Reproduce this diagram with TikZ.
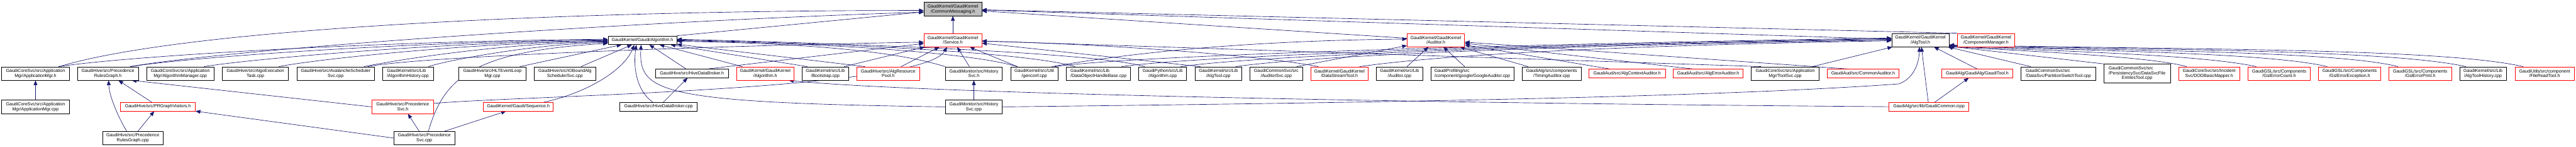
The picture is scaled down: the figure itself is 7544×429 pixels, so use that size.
\documentclass[tikz,border=0pt]{standalone}
\usepackage{fontspec}
\setmainfont{Liberation Sans}
\usepackage{xcolor}
\usepackage{tikz}
\usetikzlibrary{arrows.meta,backgrounds}
\definecolor{linkblue}{RGB}{25,25,112}
\definecolor{rootgray}{RGB}{191,191,191}
\definecolor{truncred}{RGB}{255,0,0}

\tikzset{
  srcbox/.style={draw=black,fill=white,line width=1.2pt,inner sep=0pt,align=center,
    font=\fontsize{13}{14.5}\selectfont},
  twoline/.style={minimum height=39pt},
  oneline/.style={minimum height=25pt},
  trunc/.style={draw=truncred},
  incl/.style={draw=linkblue,line width=1.2pt,-{Triangle[length=14pt,width=11pt]}}
}

\begin{document}
\begin{tikzpicture}[x=1pt,y=-1pt]
\useasboundingbox (0,0) rectangle (7544,429);

\node[srcbox,twoline,fill=rootgray,minimum width=169pt] (cm) at (2790.5,26.5) {GaudiKernel/GaudiKernel\\/CommonMessaging.h};

\node[srcbox,oneline,minimum width=201pt] (alg) at (1881.5,117.5) {GaudiKernel/Gaudi/Algorithm.h};
\node[srcbox,twoline,trunc,minimum width=169pt] (svc) at (2790.5,117) {GaudiKernel/GaudiKernel\\/Service.h};
\node[srcbox,twoline,trunc,minimum width=168pt] (aud) at (4205,117) {GaudiKernel/GaudiKernel\\/Auditor.h};
\node[srcbox,twoline,minimum width=168pt] (algtool) at (5624,117) {GaudiKernel/GaudiKernel\\/AlgTool.h};
\node[srcbox,twoline,trunc,minimum width=168pt] (compmgr) at (5816,117) {GaudiKernel/GaudiKernel\\/ComponentManager.h};

\node[srcbox,twoline,minimum width=198pt] (appmgrh) at (104,214.5) {GaudiCoreSvc/src/Application\\Mgr/ApplicationMgr.h};
\node[srcbox,twoline,minimum width=178pt] (prgh) at (316,214.5) {GaudiHive/src/Precedence\\RulesGraph.h};
\node[srcbox,twoline,minimum width=198pt] (algmgr) at (528,214.5) {GaudiCoreSvc/src/Application\\Mgr/AlgorithmManager.cpp};
\node[srcbox,twoline,minimum width=194pt] (algoexec) at (748,214.5) {GaudiHive/src/AlgoExecution\\Task.cpp};
\node[srcbox,twoline,minimum width=228pt] (avalanche) at (983,214.5) {GaudiHive/src/AvalancheScheduler\\Svc.cpp};
\node[srcbox,twoline,minimum width=149pt,align=left] (alghist) at (1194.5,214.5) {GaudiKernel/src/Lib\\/AlgorithmHistory.cpp};
\node[srcbox,twoline,minimum width=196pt] (hlt) at (1442,214.5) {GaudiHive/src/HLTEventLoop\\Mgr.cpp};
\node[srcbox,twoline,minimum width=179pt] (iobound) at (1654.5,214.5) {GaudiHive/src/IOBoundAlg\\SchedulerSvc.cpp};
\node[srcbox,oneline,minimum width=213pt] (hdbh) at (2026.5,214.5) {GaudiHive/src/HiveDataBroker.h};
\node[srcbox,twoline,trunc,minimum width=168pt] (gkalg) at (2241,214.5) {GaudiKernel/GaudiKernel\\/Algorithm.h};
\node[srcbox,twoline,minimum width=136pt] (bootstrap) at (2417,214.5) {GaudiKernel/src/Lib\\/Bootstrap.cpp};
\node[srcbox,twoline,trunc,minimum width=184pt] (algpool) at (2601,214.5) {GaudiHive/src/AlgResource\\Pool.h};
\node[srcbox,twoline,minimum width=166pt] (histh) at (2852,214.5) {GaudiMonitor/src/History\\Svc.h};
\node[srcbox,twoline,minimum width=138pt] (genconf) at (3029,214.5) {GaudiKernel/src/Util\\/genconf.cpp};
\node[srcbox,twoline,minimum width=188pt,align=left] (dohb) at (3217,214.5) {GaudiKernel/src/Lib\\/DataObjectHandleBase.cpp};
\node[srcbox,twoline,minimum width=140pt] (pyalg) at (3405,214.5) {GaudiPython/src/Lib\\/Algorithm.cpp};
\node[srcbox,twoline,minimum width=136pt] (algtoolcpp) at (3568,214.5) {GaudiKernel/src/Lib\\/AlgTool.cpp};
\node[srcbox,twoline,minimum width=155pt] (auditorsvc) at (3737.5,214.5) {GaudiCommonSvc/src\\/AuditorSvc.cpp};
\node[srcbox,twoline,trunc,minimum width=169pt] (datastream) at (3922.5,214.5) {GaudiKernel/GaudiKernel\\/DataStreamTool.h};
\node[srcbox,twoline,minimum width=137pt] (audcpp) at (4098.5,214.5) {GaudiKernel/src/Lib\\/Auditor.cpp};
\node[srcbox,twoline,minimum width=243pt,align=left] (google) at (4311.5,214.5) {GaudiProfiling/src\\/component/google/GoogleAuditor.cpp};
\node[srcbox,twoline,minimum width=172pt] (timing) at (4544,214.5) {GaudiAlg/src/components\\/TimingAuditor.cpp};
\node[srcbox,oneline,trunc,minimum width=224pt] (algctx) at (4765,214.5) {GaudiAud/src/AlgContextAuditor.h};
\node[srcbox,oneline,trunc,minimum width=205pt] (algerr) at (5002.5,214.5) {GaudiAud/src/AlgErrorAuditor.h};
\node[srcbox,twoline,minimum width=198pt] (toolsvc) at (5228,214.5) {GaudiCoreSvc/src/Application\\Mgr/ToolSvc.cpp};
\node[srcbox,oneline,trunc,minimum width=210pt] (common) at (5456,214.5) {GaudiAud/src/CommonAuditor.h};
\node[srcbox,oneline,trunc,minimum width=207pt] (gauditool) at (5790.5,214.5) {GaudiAlg/GaudiAlg/GaudiTool.h};
\node[srcbox,twoline,minimum width=218pt,align=left] (partswitch) at (6028,214.5) {GaudiCommonSvc/src\\/DataSvc/PartitionSwitchTool.cpp};
\node[srcbox,minimum width=195pt,minimum height=55pt] (datasvcfile) at (6258.5,214.5) {\begin{tabular}{@{}l@{}}GaudiCommonSvc/src\\/PersistencySvc/DataSvcFile\\\multicolumn{1}{@{}c@{}}{EntriesTool.cpp}\end{tabular}};
\node[srcbox,twoline,trunc,minimum width=179pt] (dodbasic) at (6469.5,214.5) {GaudiCoreSvc/src/Incident\\Svc/DODBasicMapper.h};
\node[srcbox,twoline,trunc,minimum width=183pt] (gslcount) at (6674.5,214.5) {GaudiGSL/src/Components\\/GslErrorCount.h};
\node[srcbox,twoline,trunc,minimum width=182pt] (gslexc) at (6881,214.5) {GaudiGSL/src/Components\\/GslErrorException.h};
\node[srcbox,twoline,trunc,minimum width=183pt] (gslprint) at (7087.5,214.5) {GaudiGSL/src/Components\\/GslErrorPrint.h};
\node[srcbox,twoline,minimum width=137pt] (algtoolhist) at (7271.5,214.5) {GaudiKernel/src/Lib\\/AlgToolHistory.cpp};
\node[srcbox,twoline,trunc,minimum width=174pt] (fileread) at (7452,214.5) {GaudiUtils/src/component\\/FileReadTool.h};

\node[srcbox,twoline,minimum width=198pt] (appmgrcpp) at (104,312) {GaudiCoreSvc/src/Application\\Mgr/ApplicationMgr.cpp};
\node[srcbox,oneline,trunc,minimum width=219pt] (prgvis) at (462.5,311.5) {GaudiHive/src/PRGraphVisitors.h};
\node[srcbox,twoline,trunc,minimum width=179pt] (prsvch) at (1179.5,312) {GaudiHive/src/Precedence\\Svc.h};
\node[srcbox,oneline,trunc,minimum width=204pt] (seq) at (1518,311.5) {GaudiKernel/Gaudi/Sequence.h};
\node[srcbox,oneline,minimum width=227pt] (hdbcpp) at (1928.5,311.5) {GaudiHive/src/HiveDataBroker.cpp};
\node[srcbox,twoline,minimum width=166pt] (histcpp) at (2852,312) {GaudiMonitor/src/History\\Svc.cpp};
\node[srcbox,oneline,trunc,minimum width=234pt] (gaudicommon) at (5649,311.5) {GaudiAlg/src/lib/GaudiCommon.icpp};

\node[srcbox,twoline,minimum width=178pt] (prgcpp) at (389,403) {GaudiHive/src/Precedence\\RulesGraph.cpp};
\node[srcbox,twoline,minimum width=179pt] (prsvccpp) at (1242.5,403) {GaudiHive/src/Precedence\\Svc.cpp};

\begin{scope}[on background layer]
\draw[incl] (svc) -- (cm);
\draw[incl] (alg.north east) -- (cm);
\draw[incl] ([xshift=-30pt]appmgrh.north east) .. controls (550,80) and (1700,30) .. ([yshift=-4pt]cm.west);
\draw[incl] ([xshift=-25pt]prgh.north east) .. controls (700,140) and (1900,60) .. ([yshift=-9pt]cm.west);
\draw[incl] (aud) -- (cm);
\draw[incl] (algtool) -- (cm);
\draw[incl] (compmgr.north west) -- (cm);

\draw[incl] ([xshift=-32pt]appmgrh.north east) .. controls +(200,-30) and +(-700,6) .. ([yshift=3pt]alg.west);
\draw[incl] ([xshift=-22pt]prgh.north east) .. controls +(150,-25) and +(-600,5) .. ([yshift=1pt]alg.west);
\draw[incl] ([xshift=-30pt]algmgr.north east) .. controls +(120,-20) and +(-500,4) .. ([yshift=-1pt]alg.west);
\draw[incl] ([xshift=-29pt]algoexec.north east) .. controls +(100,-20) and +(-400,3) .. ([yshift=-3pt]alg.west);
\draw[incl] ([xshift=-32pt]avalanche.north east) .. controls +(100,-20) and +(-300,2) .. ([yshift=-5pt]alg.west);
\draw[incl] ([xshift=-15pt]alghist.north east) .. controls +(60,-20) and +(-200,2) .. ([yshift=-7pt]alg.west);
\draw[incl] ([xshift=-18pt]hlt.north east) -- (alg);
\draw[incl] ([xshift=-43pt]iobound.north east) -- (alg);
\draw[incl] ([xshift=-17pt]hdbh.north) -- (alg);
\draw[incl] ([xshift=-67pt]gkalg.north) -- (alg);
\draw[incl] ([xshift=-53pt]bootstrap.north) -- (alg);
\draw[incl] ([xshift=-68pt]algpool.north) -- (alg);
\draw[incl] (histh.north west) .. controls +(-100,-30) and +(500,8) .. ([yshift=-3pt]alg.east);
\draw[incl] ([xshift=20pt]genconf.north west) .. controls +(-100,-30) and +(600,12) .. ([yshift=-1pt]alg.east);
\draw[incl] ([xshift=26pt]dohb.north west) .. controls +(-100,-30) and +(700,16) .. ([yshift=1pt]alg.east);
\draw[incl] ([xshift=18pt]pyalg.north west) .. controls +(-100,-30) and +(800,20) .. ([yshift=3pt]alg.east);
\draw[incl] ([xshift=75pt]seq.north) .. controls (1730,268) and (1830,200) .. ([xshift=-24pt]alg.south);
\draw[incl] ([xshift=-17pt]hdbcpp.north) .. controls (1860,260) and (1855,190) .. ([xshift=-18pt]alg.south);
\draw[incl] ([xshift=12pt]prsvccpp.north) .. controls (1300,230) and (1380,150) .. ([yshift=-9pt]alg.west);
\draw[incl] (histcpp.west) .. controls (1930,300) and (1870,270) .. ([xshift=-4pt]alg.south);

\draw[incl] ([xshift=-20pt]avalanche.north east) .. controls +(150,-30) and +(-600,10) .. ([yshift=-6pt]svc.west);
\draw[incl] ([xshift=45pt]hdbh.north) -- (svc);
\draw[incl] ([xshift=55pt]bootstrap.north) -- (svc);
\draw[incl] ([xshift=38pt]algpool.north) -- (svc);
\draw[incl] ([xshift=-13pt]histh.north) -- (svc);
\draw[incl] ([xshift=20pt]genconf.north west) -- (svc);
\draw[incl] ([yshift=10pt]prsvch.east) .. controls (1500,280) and (2700,265) .. ([xshift=-17pt]svc.south);
\draw[incl] ([xshift=16pt]algtoolcpp.north west) -- (svc);
\draw[incl] ([xshift=23pt]datastream.north west) .. controls +(-150,-30) and +(400,10) .. ([yshift=-3pt]svc.east);
\draw[incl] ([xshift=29pt]toolsvc.north west) -- (svc);

\draw[incl] ([xshift=60pt]auditorsvc.north) -- (aud);
\draw[incl] ([xshift=22pt]audcpp.north) -- (aud);
\draw[incl] ([xshift=-22pt]google.north) -- (aud);
\draw[incl] ([xshift=-69pt]timing.north) -- (aud);
\draw[incl] ([xshift=-50pt]algctx.north) -- (aud);
\draw[incl] ([xshift=-44pt]algerr.north) -- (aud);
\draw[incl] ([xshift=-43pt]common.north) -- (aud);
\draw[incl] ([xshift=-18pt]genconf.north east) .. controls +(200,-35) and +(-500,5) .. ([yshift=3pt]aud.west);

\draw[incl] ([xshift=-27pt]dohb.north east) .. controls +(250,-35) and +(-900,14) .. ([yshift=4pt]algtool.west);
\draw[incl] ([xshift=-18pt]pyalg.north east) .. controls +(250,-35) and +(-900,14) .. ([yshift=2pt]algtool.west);
\draw[incl] ([xshift=-18pt]algtoolcpp.north east) .. controls +(250,-35) and +(-900,14) .. (algtool.west);
\draw[incl] ([xshift=-26pt]datastream.north east) .. controls +(250,-35) and +(-800,14) .. ([yshift=-2pt]algtool.west);
\draw[incl] ([xshift=-10pt]genconf.north east) .. controls +(250,-35) and +(-1000,16) .. ([yshift=6pt]algtool.west);
\draw[incl] ([xshift=-20pt]toolsvc.north east) -- (algtool);
\draw[incl] (gauditool.north) -- (algtool);
\draw[incl] ([xshift=-2pt]gaudicommon.north) -- ([xshift=3pt]algtool.south);
\draw[incl] ([xshift=-81pt]partswitch.north) -- ([xshift=-4pt]algtool.south east);
\draw[incl] (datasvcfile.north west) -- ([yshift=2pt]algtool.south east);
\draw[incl] (histcpp.east) .. controls (4000,300) and (5000,285) .. (5560,245) .. controls (5600,232) and (5620,190) .. ([xshift=-3pt]algtool.south);
\draw[incl] ([xshift=24pt]dodbasic.north west) .. controls (6300,165) and (5950,150) .. ([yshift=1pt]algtool.south east);
\draw[incl] ([xshift=25pt]gslcount.north west) .. controls (6450,160) and (6050,150) .. ([yshift=2pt]algtool.south east);
\draw[incl] ([xshift=26pt]gslexc.north west) .. controls (6650,155) and (6150,148) .. ([yshift=3pt]algtool.south east);
\draw[incl] ([xshift=27pt]gslprint.north west) .. controls (6850,150) and (6250,148) .. ([yshift=4pt]algtool.south east);
\draw[incl] ([xshift=19pt]algtoolhist.north west) .. controls (7000,145) and (6300,145) .. ([yshift=5pt]algtool.south east);
\draw[incl] ([xshift=25pt]fileread.north west) .. controls (7150,140) and (6400,145) .. ([yshift=6pt]algtool.south east);

\draw[incl] (appmgrcpp) -- (appmgrh);
\draw[incl] ([xshift=-18pt]prgvis.north) -- (prgh);
\draw[incl] ([xshift=-18pt]prgcpp.north) .. controls (345,340) and (320,280) .. ([xshift=2pt]prgh.south);
\draw[incl] ([xshift=15pt]prgcpp.north) -- (prgvis);
\draw[incl] (prsvch.west) -- ([xshift=-20pt]prgh.south east);
\draw[incl] (prsvccpp.west) -- (prgvis.south east);
\draw[incl] ([xshift=-15pt]prsvccpp.north) -- ([xshift=15pt]prsvch.south);
\draw[incl] ([xshift=-30pt]prsvccpp.north east) -- ([xshift=-36pt]seq.south);
\draw[incl] ([xshift=14pt]hdbcpp.north) -- ([xshift=-13pt]hdbh.south);
\draw[incl] (histcpp) -- (histh);
\draw[incl] ([xshift=17pt]gaudicommon.north) -- ([xshift=-25pt]gauditool.south);
\draw[incl] (gaudicommon.west) .. controls (4000,300) and (2650,270) .. ([xshift=-16pt]gkalg.south east);
\end{scope}
\end{tikzpicture}
\end{document}
